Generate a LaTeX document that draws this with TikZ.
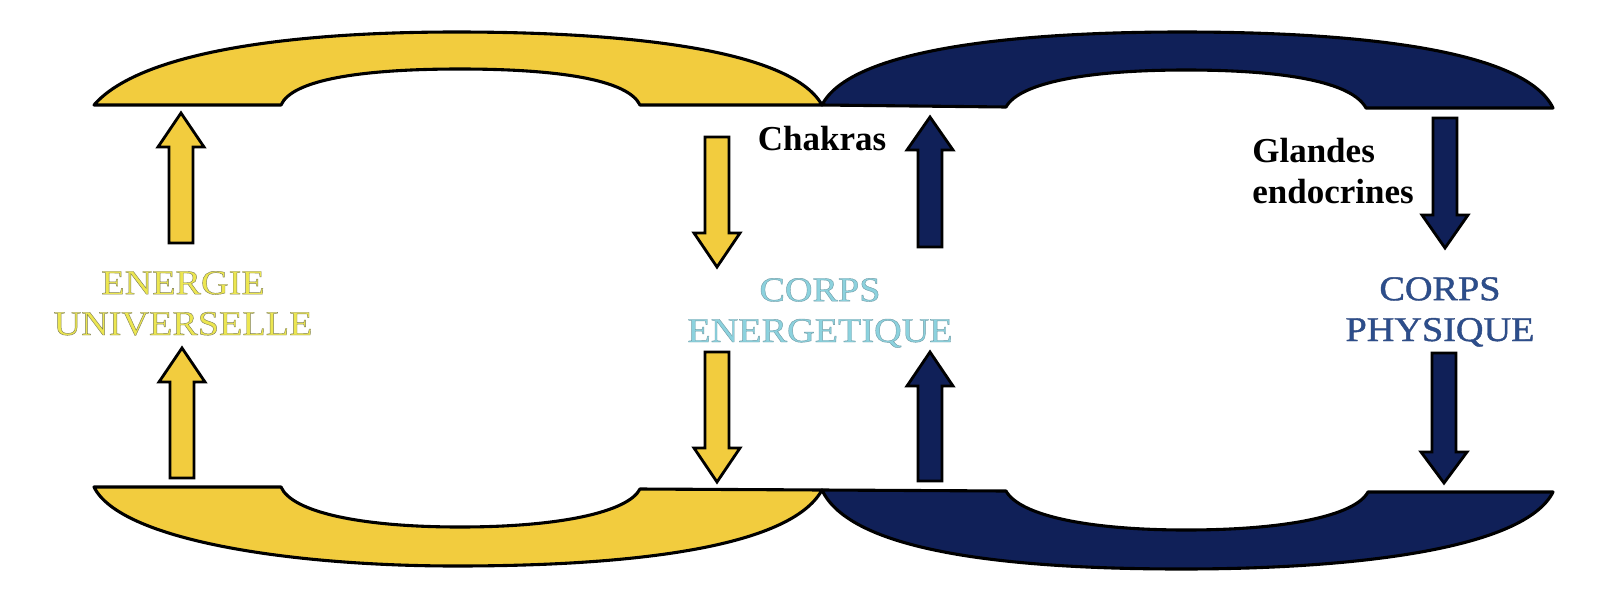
\documentclass[tikz,border=0pt]{standalone}
\usepackage{fontspec}
\setmainfont{Liberation Serif}
\newfontfamily\engr[FakeStretch=1.1]{Liberation Serif}
\definecolor{shyellow}{RGB}{242,204,62}
\definecolor{shnavy}{RGB}{16,32,88}
\definecolor{txyellow}{RGB}{236,230,80}
\definecolor{txlblue}{RGB}{140,210,222}
\definecolor{txnavy}{RGB}{44,78,140}
\newcommand{\barrow}[5]{\draw[#5] (#1-12,#2) -- (#1-12,#3) -- (#1-23,#3) -- (#1,#4) -- (#1+23,#3) -- (#1+12,#3) -- (#1+12,#2) -- cycle;}
\newcommand{\outl}[2]{\special{pdf:literal direct 2 Tr 0.3 w #1 RG}#2\special{pdf:literal direct 0 Tr}}
\tikzset{
  yshape/.style={fill=shyellow, draw=black, line width=2.2pt, line join=round},
  nshape/.style={fill=shnavy, draw=black, line width=2.2pt, line join=round},
  yarr/.style={fill=shyellow, draw=black, line width=2pt, line join=miter},
  narr/.style={fill=shnavy, draw=black, line width=2pt, line join=miter},
  engrave/.style={font=\engr\fontsize{24.7}{29}\selectfont, align=center, anchor=base, inner sep=0pt},
  boldlab/.style={font=\bfseries\fontsize{24.9}{28.5}\selectfont, inner sep=0pt, anchor=base}
}
\begin{document}
\begin{tikzpicture}[x=0.025cm, y=-0.025cm]
\useasboundingbox (0,0) rectangle (1600,606);
\fill[white] (0,0) rectangle (1600,606);
% top yellow
\path[yshape] (94,105) .. controls (140,52) and (290,32) .. (456,32)
  .. controls (620,32) and (790,48) .. (822,105)
  -- (640,105) .. controls (628,80) and (560,69) .. (460,69)
  .. controls (360,69) and (292,80) .. (281,105) -- cycle;
% top navy
\path[nshape] (822,105) .. controls (850,50) and (1010,32) .. (1182,32)
  .. controls (1360,32) and (1525,50) .. (1553,108)
  -- (1366,108) .. controls (1352,82) and (1285,70) .. (1186,70)
  .. controls (1090,70) and (1020,82) .. (1006,107) -- cycle;
% bottom yellow
\path[yshape] (94,487) -- (281,487) .. controls (292,512) and (360,527) .. (460,527)
  .. controls (560,527) and (628,512) .. (640,489) -- (822,490)
  .. controls (790,548) and (630,566) .. (456,566)
  .. controls (290,566) and (120,540) .. (94,487) -- cycle;
% bottom navy
\path[nshape] (822,490) -- (1006,491) .. controls (1020,516) and (1090,530) .. (1186,530)
  .. controls (1285,530) and (1355,516) .. (1368,492) -- (1553,492)
  .. controls (1525,548) and (1360,569) .. (1182,569)
  .. controls (1000,569) and (850,550) .. (822,490) -- cycle;
% arrows
\barrow{181}{243}{147}{113}{yarr}
\barrow{182}{478}{382}{348}{yarr}
\barrow{717}{137}{233}{267}{yarr}
\barrow{717}{352}{448}{482}{yarr}
\barrow{930}{247}{150}{117}{narr}
\barrow{930}{481}{386}{352}{narr}
\barrow{1445}{118}{215}{248}{narr}
\barrow{1444}{353}{452}{483}{narr}
% labels
\node[engrave, text=txyellow] (eu) at (183,335) {\outl{0.5 0.5 0.35}{ENERGIE}\\\outl{0.5 0.5 0.35}{UNIVERSELLE}};
\node[engrave, text=txlblue] (ce) at (820,342) {\outl{0.45 0.62 0.66}{CORPS}\\\outl{0.45 0.62 0.66}{ENERGETIQUE}};
\node[engrave, text=txnavy] (cp) at (1440,341) {\outl{0.2 0.3 0.5}{CORPS}\\\outl{0.2 0.3 0.5}{PHYSIQUE}};
\node[boldlab] (ch) at (822,150) {Chakras};
\node[boldlab, anchor=base west, align=left] (gl) at (1252,203) {Glandes\\endocrines};
\end{tikzpicture}
\end{document}
